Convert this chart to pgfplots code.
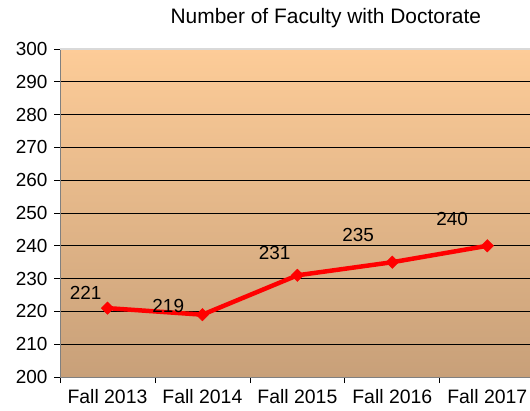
\documentclass[border=0pt]{standalone}
\usepackage{fontspec}
\setmainfont{Liberation Sans}
\usepackage{pgfplots}
\pgfplotsset{compat=1.18}
\begin{document}
\begin{tikzpicture}
\begin{axis}[
  at={(60bp,34bp)}, anchor=south west,
  scale only axis, width=470bp, height=328bp,
  xmin=-0.5, xmax=4.45, ymin=200, ymax=300,
  axis background/.style={shade, top color={rgb,255:red,253;green,204;blue,152}, bottom color={rgb,255:red,200;green,160;blue,121}},
  axis x line*=bottom, axis y line*=left,
  axis line style={draw={rgb,255:red,128;green,128;blue,128}, line width=1pt},
  xtick={0,1,2,3,4},
  xticklabels={Fall 2013,Fall 2014,Fall 2015,Fall 2016,Fall 2017},
  major x tick style={draw=none},
  minor xtick={-0.5,0.5,1.5,2.5,3.5},
  minor x tick style={draw=black, line width=0.8pt},
  minor tick length=6bp,
  ytick={210,220,...,290},
  extra y ticks={200,300},
  extra y tick style={grid=none},
  ymajorgrids,
  grid style={draw=black, line width=0.8pt},
  ytick style={draw=black, line width=0.8pt},
  major tick length=6bp,
  tick align=outside,
  tick pos=left,
  yticklabel style={font=\fontsize{19}{21}\selectfont, /pgf/number format/assume math mode=true, xshift=-3bp},
  xticklabel style={font=\fontsize{19.5}{21}\selectfont, yshift=-3bp},
  /pgf/number format/assume math mode=true,
  clip=false,
]
\draw[draw={rgb,255:red,217;green,217;blue,217}, line width=1.5pt] (axis cs:-0.5,300) -- (axis cs:4.45,300);
\addplot[red, line width=4.5pt, mark=square*, mark size=4.4pt, mark options={fill=red, line width=0.5pt, rotate=45}]
  coordinates {(0,221) (1,219) (2,231) (3,235) (4,240)};
\addplot[draw=none, nodes near coords, point meta=explicit symbolic,
  nodes near coords style={anchor=center, font=\fontsize{19}{21}\selectfont, text=black}]
  coordinates {(-0.23,225.6)[221] (0.64,221.6)[219] (1.76,237.8)[231] (2.64,243.3)[235] (3.63,248.2)[240]};
\node[font=\fontsize{21}{23}\selectfont, anchor=center] at (axis cs:2.3,309.5) {Number of Faculty with Doctorate};
\end{axis}
\pgfresetboundingbox
\useasboundingbox (0,0) rectangle (530bp,411bp);
\end{tikzpicture}
\end{document}
